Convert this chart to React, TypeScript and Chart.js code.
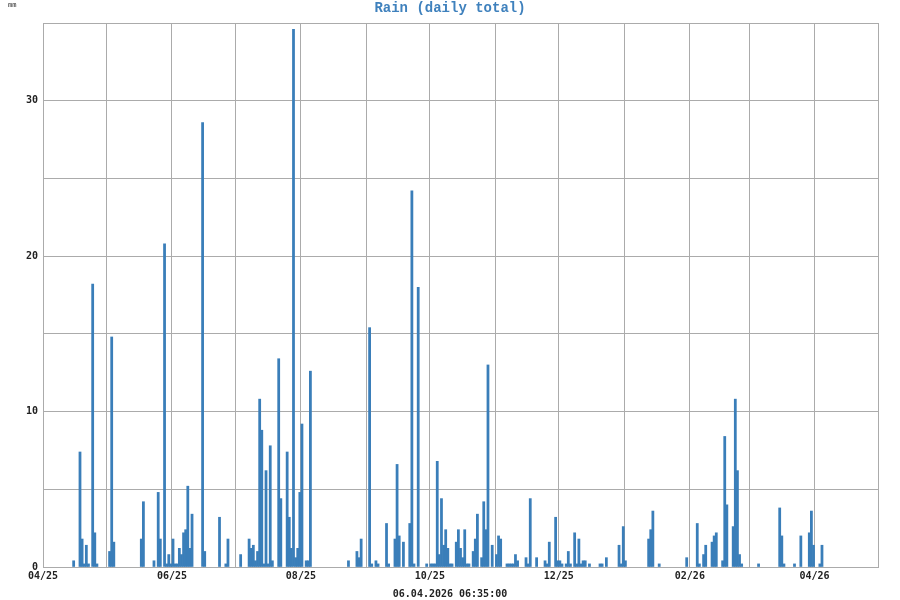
import React, { useEffect, useRef } from "react";
import { Chart, registerables } from "chart.js";

Chart.register(...registerables);

// Day index counted from 2025-04-01
const rainDays = [
  14, 17, 18, 19, 20, 21, 23, 24, 25, 31, 32, 33, 46, 47, 52, 54, 55, 57, 58, 59,
  60, 61, 62, 63, 64, 65, 66, 67, 68, 69, 70, 75, 76, 83, 86, 87, 93, 97, 98, 99,
  100, 101, 102, 103, 104, 105, 106, 107, 108, 111, 112, 115, 116, 117, 118, 119, 120, 121, 122, 124,
  125, 126, 144, 148, 149, 150, 154, 155, 157, 158, 162, 163, 166, 167, 168, 170, 173, 174, 175, 177,
  181, 183, 184, 185, 186, 187, 188, 189, 190, 191, 192, 193, 195, 196, 197, 198, 199, 200, 201, 203,
  204, 205, 207, 208, 209, 210, 212, 214, 215, 216, 219, 220, 221, 222, 223, 224, 228, 229, 230, 233,
  237, 238, 239, 242, 243, 244, 245, 247, 248, 249, 251, 252, 253, 254, 255, 256, 258, 263, 264, 266,
  272, 273, 274, 275, 286, 287, 288, 291, 304, 309, 310, 312, 313, 316, 317, 318, 321, 322, 323, 326,
  327, 328, 329, 330, 338, 348, 349, 350, 355, 358, 362, 363, 364, 367, 368,
];
const rainMM = [
  0.4, 7.4, 1.8, 0.2, 1.4, 0.2, 18.2, 2.2, 0.2, 1.0, 14.8, 1.6, 1.8, 4.2, 0.4, 4.8, 1.8, 20.8, 0.2, 0.8,
  0.2, 1.8, 0.2, 0.2, 1.2, 0.8, 2.2, 2.4, 5.2, 1.2, 3.4, 28.6, 1.0, 3.2, 0.2, 1.8, 0.8, 1.8, 1.2, 1.4,
  0.4, 1.0, 10.8, 8.8, 0.2, 6.2, 0.2, 7.8, 0.4, 13.4, 4.4, 7.4, 3.2, 1.2, 34.6, 0.6, 1.2, 4.8, 9.2, 0.4,
  0.4, 12.6, 0.4, 1.0, 0.6, 1.8, 15.4, 0.2, 0.4, 0.2, 2.8, 0.2, 1.8, 6.6, 2.0, 1.6, 2.8, 24.2, 0.2, 18.0,
  0.2, 0.2, 0.2, 0.2, 6.8, 0.8, 4.4, 1.4, 2.4, 1.2, 0.2, 0.2, 1.6, 2.4, 1.2, 0.6, 2.4, 0.2, 0.2, 1.0,
  1.8, 3.4, 0.6, 4.2, 2.4, 13.0, 1.4, 0.8, 2.0, 1.8, 0.2, 0.2, 0.2, 0.2, 0.8, 0.4, 0.6, 0.2, 4.4, 0.6,
  0.4, 0.2, 1.6, 3.2, 0.4, 0.4, 0.2, 0.2, 1.0, 0.2, 2.2, 0.2, 1.8, 0.2, 0.4, 0.4, 0.2, 0.2, 0.2, 0.6,
  1.4, 0.2, 2.6, 0.4, 1.8, 2.4, 3.6, 0.2, 0.6, 2.8, 0.2, 0.8, 1.4, 1.6, 2.0, 2.2, 0.4, 8.4, 4.0, 2.6,
  10.8, 6.2, 0.8, 0.2, 0.2, 3.8, 2.0, 0.2, 0.2, 2.0, 2.2, 3.6, 1.4, 0.2, 1.4,
];

// Month boundaries (day index) and their labels
const monthTickDays = [0, 30, 61, 91, 122, 153, 183, 214, 244, 275, 306, 334, 365, 395];
const monthTickLabels = ["04/25", "", "06/25", "", "08/25", "", "10/25", "", "12/25", "", "02/26", "", "04/26", ""];
const yLabelValues = [0, 10, 20, 30];

const chartTitle = "Rain (daily total)";
const yUnit = "mm";
const timestamp = "06.04.2026 06:35:00";
const xMin = 0;
const xMax = 395;
const yMin = 0;
const yMax = 35;
const yStep = 5;

const BAR_COLOR = "#3a7eb9";
const GRID_COLOR = "#ababab";
const TITLE_COLOR = "#3f81bd";
const MONO = "'DejaVu Sans Mono', monospace";

const textPlugin = {
  id: "extraText",
  afterDraw(chart: any) {
    const ctx = chart.ctx as CanvasRenderingContext2D;
    ctx.save();
    ctx.textAlign = "center";
    ctx.textBaseline = "middle";
    ctx.fillStyle = TITLE_COLOR;
    ctx.font = "bold 14px 'Liberation Mono', monospace";
    ctx.fillText(chartTitle, chart.width / 2, 8);
    ctx.fillStyle = "#222";
    ctx.font = "bold 10px " + MONO;
    ctx.fillText(timestamp, chart.width / 2, 594);
    ctx.font = "7px " + MONO;
    ctx.textAlign = "left";
    ctx.fillText(yUnit, 8, 5);
    ctx.restore();
  },
};

export default function App() {
  const canvasRef = useRef<HTMLCanvasElement | null>(null);

  useEffect(() => {
    if (!canvasRef.current) return;
    const data = rainDays.map((d, i) => ({ x: d + 0.5, y: rainMM[i] }));
    const chart = new Chart(canvasRef.current, {
      type: "bar",
      data: {
        datasets: [
          {
            data,
            backgroundColor: BAR_COLOR,
            borderWidth: 0,
            barPercentage: 1,
            categoryPercentage: 1,
            grouped: false,
          } as any,
        ],
      },
      options: {
        responsive: false,
        animation: false,
        layout: { padding: { top: 23, right: 22, bottom: 0, left: 0 } },
        plugins: {
          legend: { display: false },
          tooltip: { enabled: false },
          title: { display: false },
        },
        scales: {
          x: {
            type: "linear",
            min: xMin,
            max: xMax,
            offset: false,
            afterBuildTicks: (scale: any) => {
              scale.ticks = monthTickDays.map((v) => ({ value: v }));
            },
            afterFit: (scale: any) => {
              scale.height = 33;
            },
            ticks: {
              autoSkip: false,
              maxRotation: 0,
              minRotation: 0,
              padding: 3,
              color: "#222",
              font: { family: MONO, size: 10, weight: "bold" },
              callback: (value: any) => {
                const idx = monthTickDays.indexOf(Number(value));
                return idx >= 0 ? monthTickLabels[idx] : "";
              },
            },
            grid: { color: GRID_COLOR, lineWidth: 1, drawTicks: false, offset: false },
            border: { display: true, color: GRID_COLOR, width: 1 },
          },
          y: {
            type: "linear",
            min: yMin,
            max: yMax,
            afterFit: (scale: any) => {
              scale.width = 43;
            },
            ticks: {
              stepSize: yStep,
              padding: 5,
              color: "#222",
              font: { family: MONO, size: 10, weight: "bold" },
              callback: (value: any) => (yLabelValues.includes(Number(value)) ? String(value) : ""),
            },
            grid: { color: GRID_COLOR, lineWidth: 1, drawTicks: false },
            border: { display: true, color: GRID_COLOR, width: 1 },
          },
        },
      },
      plugins: [textPlugin],
    });
    return () => chart.destroy();
  }, []);

  return (
    <div style={{ position: "fixed", left: 0, top: 0, width: 900, height: 600, background: "#fff" }}>
      <canvas ref={canvasRef} width={900} height={600} style={{ display: "block" }} />
    </div>
  );
}
